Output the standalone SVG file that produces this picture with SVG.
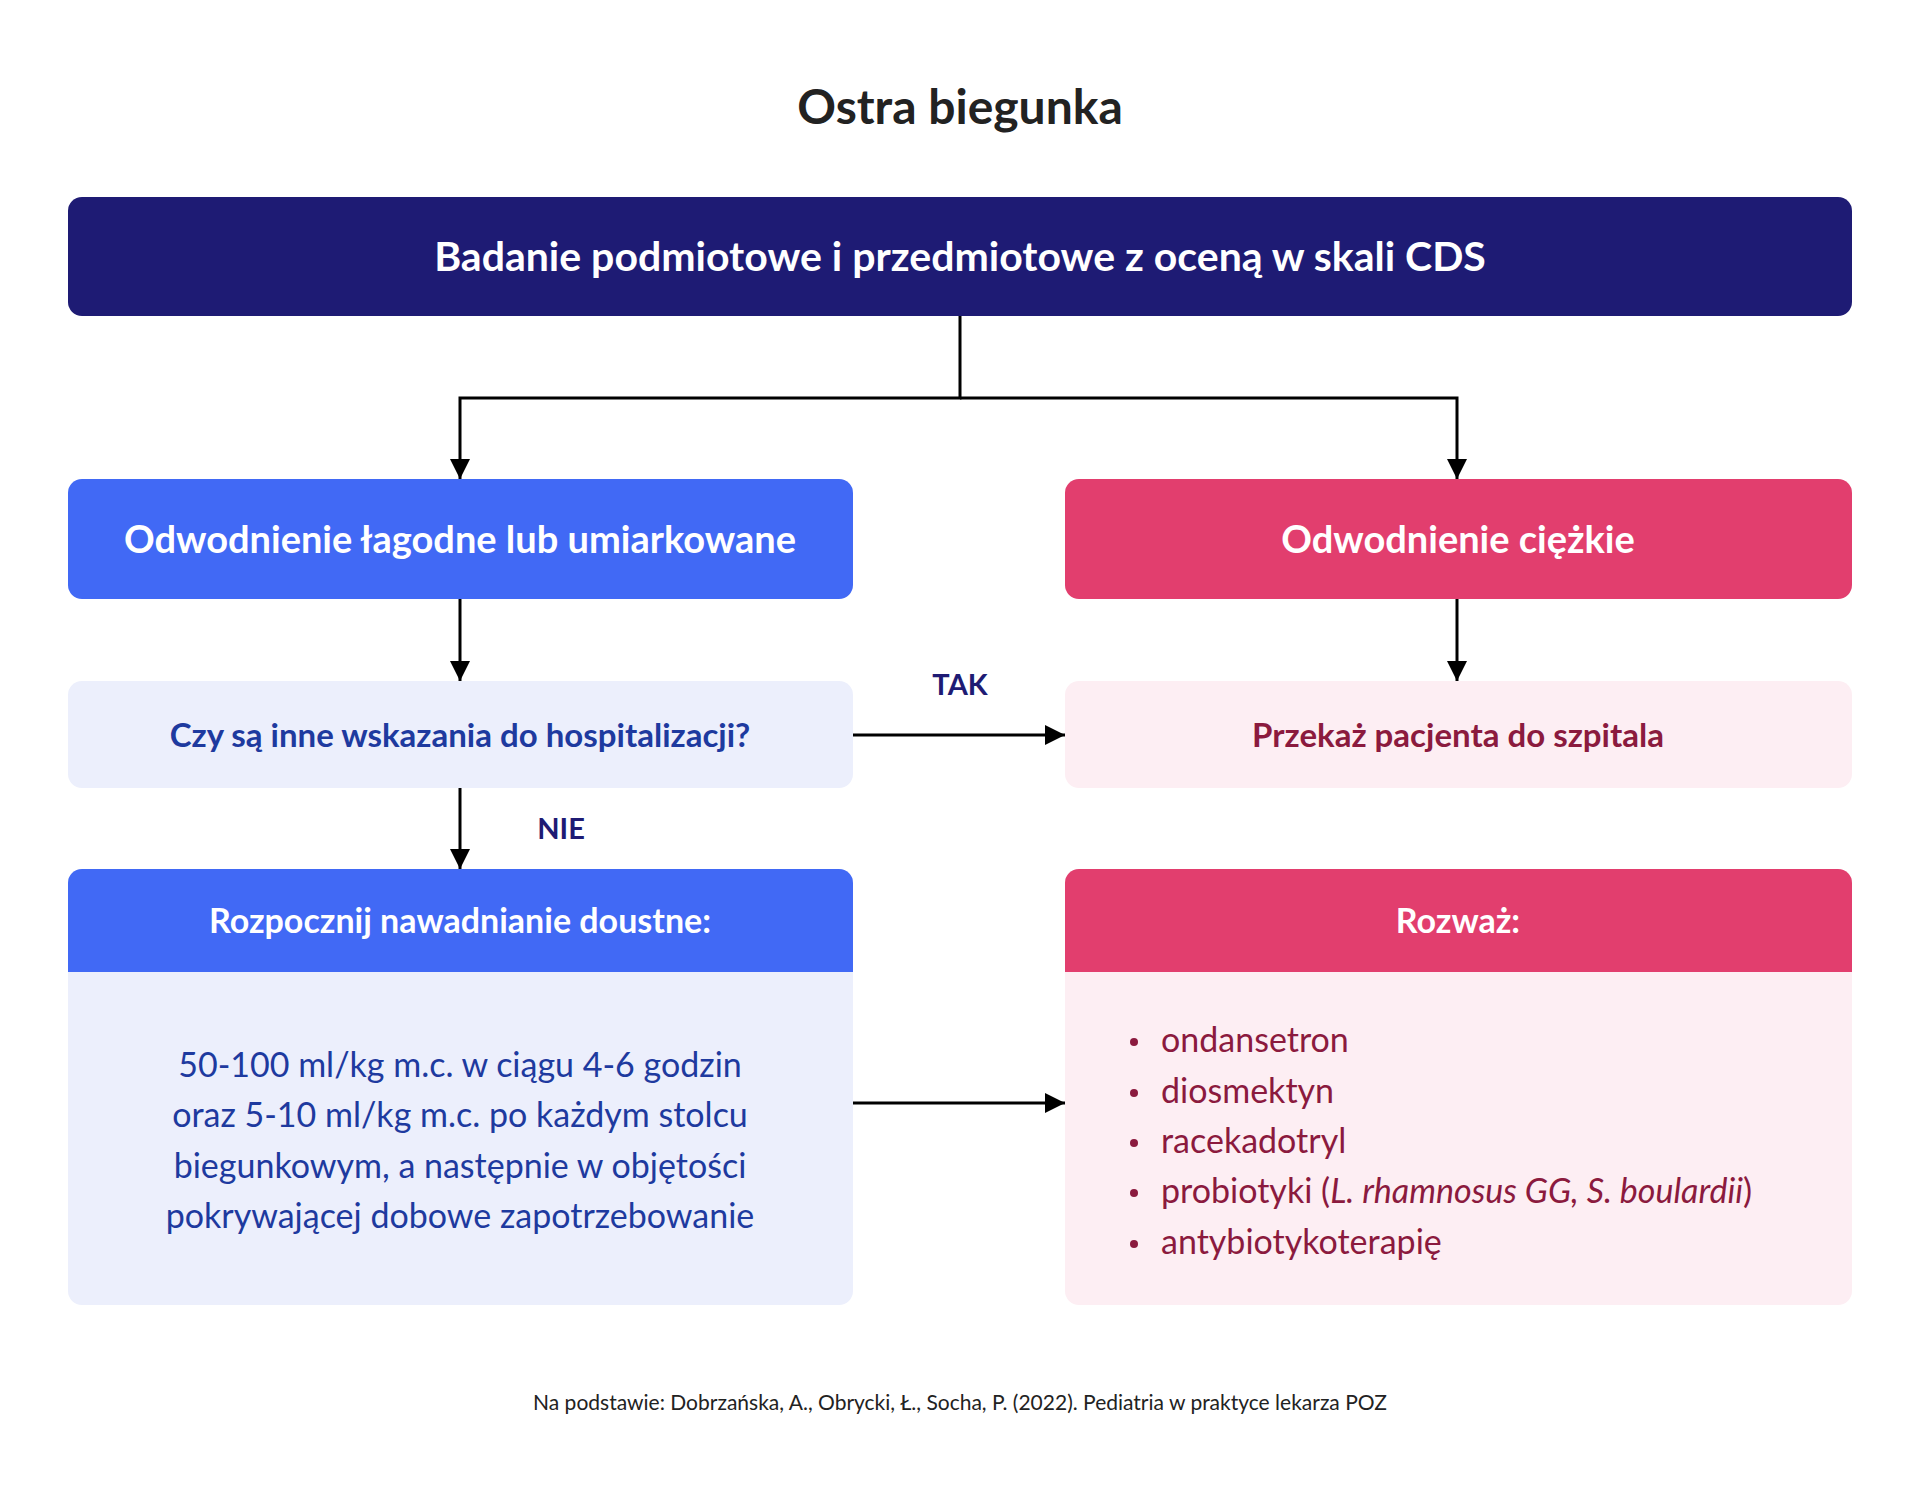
<svg xmlns="http://www.w3.org/2000/svg" width="1920" height="1485" viewBox="0 0 1920 1485">
<style>
text{font-family:Lato,"Noto Sans",sans-serif;text-anchor:middle}
.h{font-weight:bold;fill:#fff;font-size:38px}
.q{font-weight:bold;font-size:33px}
.b{fill:#1e3a9f;font-size:34px}
.r{fill:#8b1a3e;font-size:34px;text-anchor:start}
.lbl{font-weight:bold;fill:#1e1b74;font-size:29px}
.c{stroke:#000;stroke-width:3;fill:none}
</style>
<defs><marker id="a" viewBox="0 0 10 10" refX="10" refY="5" markerWidth="7" markerHeight="7" markerUnits="userSpaceOnUse" orient="auto"><path d="M0,0L10,5L0,10z" fill="#000"/></marker>
<marker id="m" viewBox="0 0 10 10" refX="10" refY="5" markerWidth="20" markerHeight="20" markerUnits="userSpaceOnUse" orient="auto"><path d="M0,0L10,5L0,10z" fill="#000"/></marker></defs>
<rect width="1920" height="1485" fill="#fff"/>
<text x="960" y="124" style="font-weight:bold;font-size:48px;fill:#222">Ostra biegunka</text>
<g id="connectors">
<path class="c" d="M960,316V398H460V479" marker-end="url(#m)"/>
<path class="c" d="M960,398H1457V479" marker-end="url(#m)"/>
<path class="c" d="M460,599V681" marker-end="url(#m)"/>
<path class="c" d="M1457,599V681" marker-end="url(#m)"/>
<path class="c" d="M853,735H1065" marker-end="url(#m)"/>
<path class="c" d="M460,788V869" marker-end="url(#m)"/>
<path class="c" d="M853,1103H1065" marker-end="url(#m)"/>
<text class="lbl" x="960" y="695">TAK</text>
<text class="lbl" x="561" y="839">NIE</text>
</g>
<g id="top"><rect x="68" y="197" width="1784" height="119" rx="14" fill="#1e1b74"/><text class="h" x="960" y="271" style="font-size:41px">Badanie podmiotowe i przedmiotowe z oceną w skali CDS</text></g>
<g id="mild"><rect x="68" y="479" width="785" height="120" rx="14" fill="#4169f5"/><text class="h" x="460" y="553">Odwodnienie łagodne lub umiarkowane</text></g>
<g id="severe"><rect x="1065" y="479" width="787" height="120" rx="14" fill="#e23e6e"/><text class="h" x="1458" y="553">Odwodnienie ciężkie</text></g>
<g id="q"><rect x="68" y="681" width="785" height="107" rx="14" fill="#eceffc"/><text class="q" x="460" y="747" fill="#1e3a9f">Czy są inne wskazania do hospitalizacji?</text></g>
<g id="hosp"><rect x="1065" y="681" width="787" height="107" rx="14" fill="#fdeef3"/><text class="q" x="1458" y="747" fill="#8b1a3e">Przekaż pacjenta do szpitala</text></g>
<g id="oral"><rect x="68" y="869" width="785" height="436" rx="14" fill="#eceffc"/><path d="M68,972V883a14,14 0 0 1 14-14H839a14,14 0 0 1 14,14V972z" fill="#4169f5"/>
<text class="h" x="460" y="933" style="font-size:34px">Rozpocznij nawadnianie doustne:</text>
<text class="b" x="460" y="1077">50-100 ml/kg m.c. w ciągu 4-6 godzin</text>
<text class="b" x="460" y="1127">oraz 5-10 ml/kg m.c. po każdym stolcu</text>
<text class="b" x="460" y="1178">biegunkowym, a następnie w objętości</text>
<text class="b" x="460" y="1228">pokrywającej dobowe zapotrzebowanie</text></g>
<g id="consider"><rect x="1065" y="869" width="787" height="436" rx="14" fill="#fdeef3"/><path d="M1065,972V883a14,14 0 0 1 14-14H1838a14,14 0 0 1 14,14V972z" fill="#e23e6e"/>
<text class="h" x="1458" y="933" style="font-size:34px">Rozważ:</text>
<g fill="#8b1a3e"><circle cx="1134" cy="1042" r="4"/><circle cx="1134" cy="1093" r="4"/><circle cx="1134" cy="1143" r="4"/><circle cx="1134" cy="1193" r="4"/><circle cx="1134" cy="1244" r="4"/></g>
<text class="r" x="1161" y="1052">ondansetron</text>
<text class="r" x="1161" y="1103">diosmektyn</text>
<text class="r" x="1161" y="1153">racekadotryl</text>
<text class="r" x="1161" y="1203">probiotyki (<tspan font-style="italic">L. rhamnosus GG, S. boulardii</tspan>)</text>
<text class="r" x="1161" y="1254">antybiotykoterapię</text></g>
<text x="960" y="1410" style="font-size:21px;fill:#222">Na podstawie: Dobrzańska, A., Obrycki, Ł., Socha, P. (2022). Pediatria w praktyce lekarza POZ</text>
</svg>
